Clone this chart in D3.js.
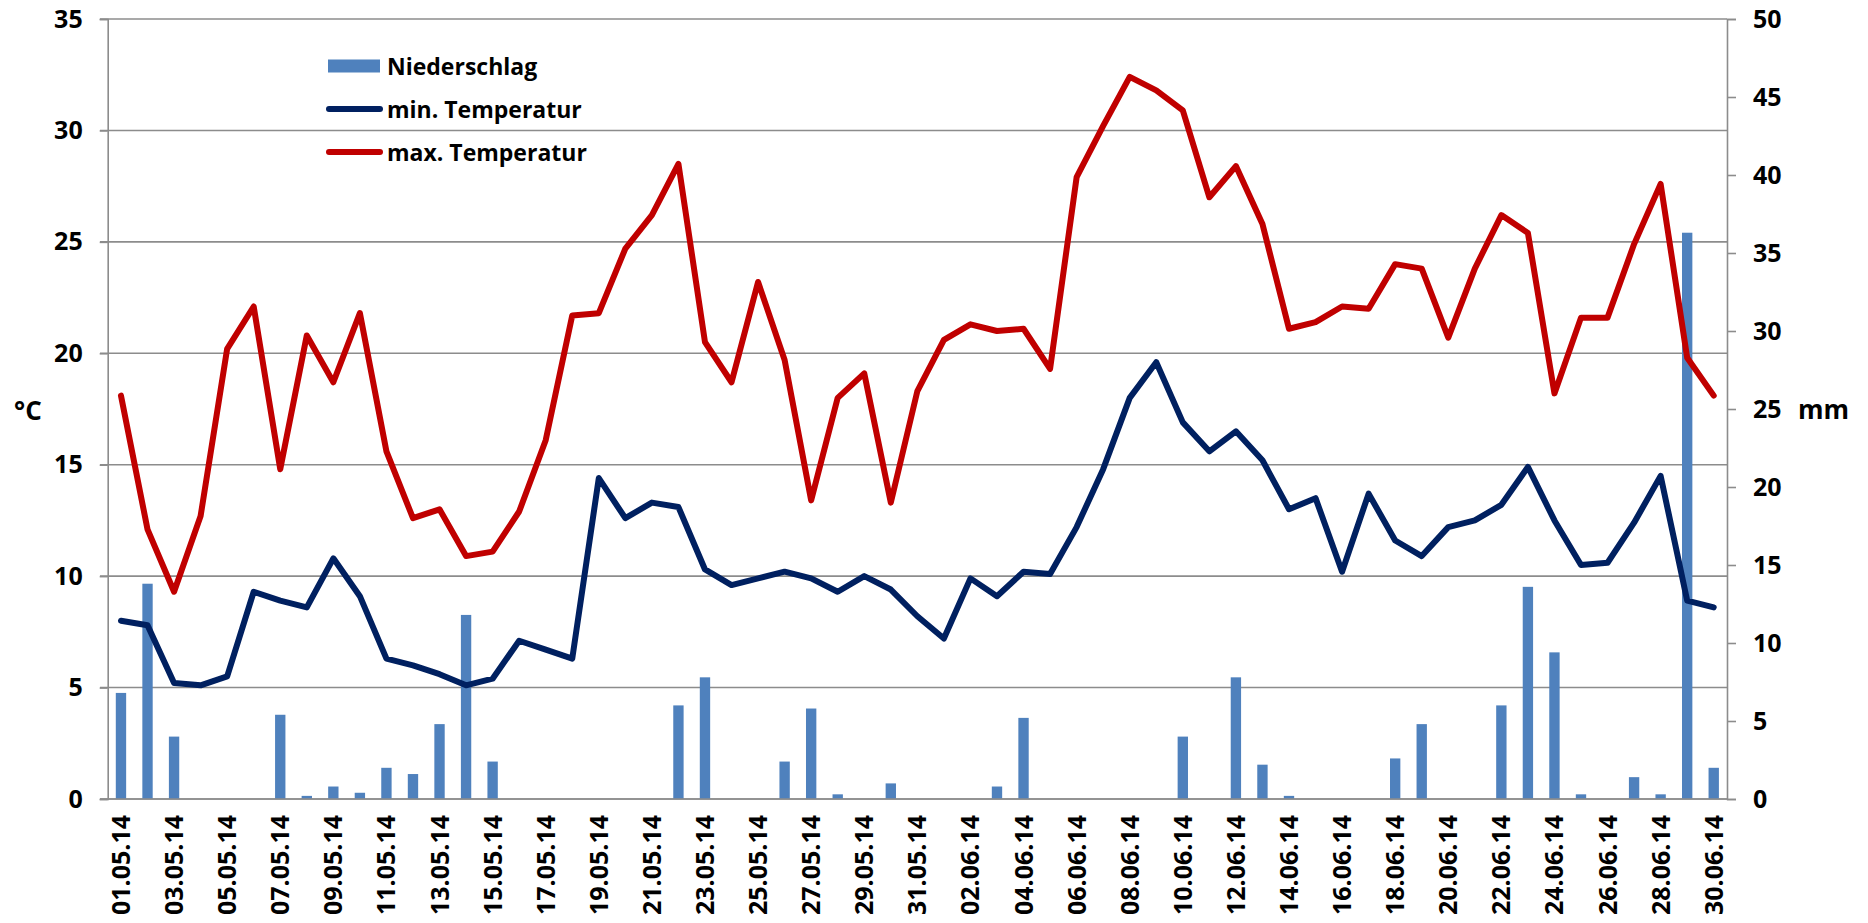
<!DOCTYPE html>
<html>
<head>
<meta charset="utf-8">
<script src="https://cdn.jsdelivr.net/npm/d3@7"></script>
<style>
  html, body { margin: 0; padding: 0; background: #fff; }
  svg { display: block; font-family: "Open Sans", sans-serif; }
</style>
</head>
<body>
<svg id="chart" width="1868" height="923"></svg>
<script>
const dates = ["01.05.14","02.05.14","03.05.14","04.05.14","05.05.14","06.05.14","07.05.14","08.05.14","09.05.14","10.05.14",
  "11.05.14","12.05.14","13.05.14","14.05.14","15.05.14","16.05.14","17.05.14","18.05.14","19.05.14","20.05.14",
  "21.05.14","22.05.14","23.05.14","24.05.14","25.05.14","26.05.14","27.05.14","28.05.14","29.05.14","30.05.14","31.05.14",
  "01.06.14","02.06.14","03.06.14","04.06.14","05.06.14","06.06.14","07.06.14","08.06.14","09.06.14","10.06.14",
  "11.06.14","12.06.14","13.06.14","14.06.14","15.06.14","16.06.14","17.06.14","18.06.14","19.06.14","20.06.14",
  "21.06.14","22.06.14","23.06.14","24.06.14","25.06.14","26.06.14","27.06.14","28.06.14","29.06.14","30.06.14"];

const niederschlag = [6.8, 13.8, 4.0, 0, 0, 0, 5.4, 0.2, 0.8, 0.4,
  2.0, 1.6, 4.8, 11.8, 2.4, 0, 0, 0, 0, 0,
  0, 6.0, 7.8, 0, 0, 2.4, 5.8, 0.3, 0, 1.0, 0,
  0, 0, 0.8, 5.2, 0, 0, 0, 0, 0, 4.0,
  0, 7.8, 2.2, 0.2, 0, 0, 0, 2.6, 4.8, 0,
  0, 6.0, 13.6, 9.4, 0.3, 0, 1.4, 0.3, 36.3, 2.0];

const minTemp = [8.0, 7.8, 5.2, 5.1, 5.5, 9.3, 8.9, 8.6, 10.8, 9.1,
  6.3, 6.0, 5.6, 5.1, 5.4, 7.1, 6.7, 6.3, 14.4, 12.6,
  13.3, 13.1, 10.3, 9.6, 9.9, 10.2, 9.9, 9.3, 10.0, 9.4, 8.2,
  7.2, 9.9, 9.1, 10.2, 10.1, 12.2, 14.8, 18.0, 19.6, 16.9,
  15.6, 16.5, 15.2, 13.0, 13.5, 10.2, 13.7, 11.6, 10.9, 12.2,
  12.5, 13.2, 14.9, 12.5, 10.5, 10.6, 12.4, 14.5, 8.9, 8.6];

const maxTemp = [18.1, 12.1, 9.3, 12.7, 20.2, 22.1, 14.8, 20.8, 18.7, 21.8,
  15.6, 12.6, 13.0, 10.9, 11.1, 12.9, 16.1, 21.7, 21.8, 24.7,
  26.2, 28.5, 20.5, 18.7, 23.2, 19.7, 13.4, 18.0, 19.1, 13.3, 18.3,
  20.6, 21.3, 21.0, 21.1, 19.3, 27.9, 30.2, 32.4, 31.8, 30.9,
  27.0, 28.4, 25.8, 21.1, 21.4, 22.1, 22.0, 24.0, 23.8, 20.7,
  23.8, 26.2, 25.4, 18.2, 21.6, 21.6, 24.9, 27.6, 19.8, 18.1];

const tempTicks = [0, 5, 10, 15, 20, 25, 30, 35];
const mmTicks = [0, 5, 10, 15, 20, 25, 30, 35, 40, 45, 50];
const labelDates = dates.filter((d, i) => i % 2 === 0);

const legendItems = [
  {label: "Niederschlag", type: "bar", color: "#4F81BD"},
  {label: "min. Temperatur", type: "line", color: "#002060"},
  {label: "max. Temperatur", type: "line", color: "#C00000"}
];

const L = 107.7, R = 1727, T = 19, B = 799;
const svg = d3.select("#chart");
const gridColor = "#8c8c8c";
const FW = 700;

const x = d3.scaleBand().domain(dates).range([L, R]).paddingInner(0.61).paddingOuter(0.305);
const yT = d3.scaleLinear().domain([0, 35]).range([B, T]);
const yP = d3.scaleLinear().domain([0, 50]).range([B, T]);
const cx = d => x(d) + x.bandwidth() / 2;

// gridlines
svg.append("g").selectAll("line").data(tempTicks).join("line")
  .attr("x1", 100).attr("x2", R)
  .attr("y1", d => yT(d)).attr("y2", d => yT(d))
  .attr("stroke", gridColor).attr("stroke-width", 1.6);

// bars
svg.append("g").selectAll("rect").data(niederschlag).join("rect")
  .attr("x", (d, i) => x(dates[i]))
  .attr("width", x.bandwidth())
  .attr("y", d => yP(d))
  .attr("height", d => B - yP(d))
  .attr("fill", "#4F81BD");

// left axis
const axL = svg.append("g").attr("transform", `translate(${L},0)`)
  .call(d3.axisLeft(yT).tickValues(tempTicks).tickSize(8).tickPadding(17));
axL.select(".domain").attr("stroke", gridColor).attr("stroke-width", 1.6);
axL.selectAll(".tick line").attr("stroke", gridColor).attr("stroke-width", 1.6);
axL.selectAll("text").attr("font-size", 25).attr("font-weight", FW).attr("fill", "#000")
  .attr("font-family", "Open Sans, sans-serif");

// right axis
const axR = svg.append("g").attr("transform", `translate(${R},0)`)
  .call(d3.axisRight(yP).tickValues(mmTicks).tickSize(9).tickPadding(17));
axR.select(".domain").attr("stroke", gridColor).attr("stroke-width", 1.6);
axR.selectAll(".tick line").attr("stroke", gridColor).attr("stroke-width", 1.6);
axR.selectAll("text").attr("font-size", 25).attr("font-weight", FW).attr("fill", "#000")
  .attr("font-family", "Open Sans, sans-serif");

// bottom axis
const axB = svg.append("g").attr("transform", `translate(0,${B})`)
  .call(d3.axisBottom(x).tickValues(labelDates).tickSize(0));
axB.select(".domain").remove();
axB.selectAll("text")
  .attr("transform", "rotate(-90)")
  .attr("x", -16).attr("y", 0).attr("dy", "0.36em")
  .attr("text-anchor", "end")
  .attr("font-size", 25).attr("font-weight", FW).attr("fill", "#000")
  .attr("font-family", "Open Sans, sans-serif");
svg.append("line").attr("x1", 100).attr("x2", R).attr("y1", B).attr("y2", B)
  .attr("stroke", gridColor).attr("stroke-width", 1.6);

// lines
const lineGen = d3.line().x((d, i) => cx(dates[i])).y(d => yT(d));
svg.append("path").datum(minTemp).attr("d", lineGen)
  .attr("fill", "none").attr("stroke", "#002060").attr("stroke-width", 6)
  .attr("stroke-linejoin", "round").attr("stroke-linecap", "round");
svg.append("path").datum(maxTemp).attr("d", lineGen)
  .attr("fill", "none").attr("stroke", "#C00000").attr("stroke-width", 6)
  .attr("stroke-linejoin", "round").attr("stroke-linecap", "round");

// axis titles
svg.append("text").attr("x", 14).attr("y", 420).text("°C")
  .attr("font-size", 26).attr("font-weight", FW).attr("fill", "#000");
svg.append("text").attr("x", 1798).attr("y", 419).text("mm")
  .attr("font-size", 26).attr("font-weight", FW).attr("fill", "#000");

// legend
const leg = svg.append("g");
legendItems.forEach((it, i) => {
  const cy = 66 + i * 43;
  if (it.type === "bar") {
    leg.append("rect").attr("x", 328).attr("y", cy - 6.5).attr("width", 52).attr("height", 13).attr("fill", it.color);
  } else {
    leg.append("line").attr("x1", 329).attr("x2", 380).attr("y1", cy).attr("y2", cy)
      .attr("stroke", it.color).attr("stroke-width", 6).attr("stroke-linecap", "round");
  }
  leg.append("text").attr("x", 387).attr("y", cy + 8.5).text(it.label)
    .attr("font-size", 23).attr("font-weight", FW).attr("fill", "#000");
});
</script>
</body>
</html>
